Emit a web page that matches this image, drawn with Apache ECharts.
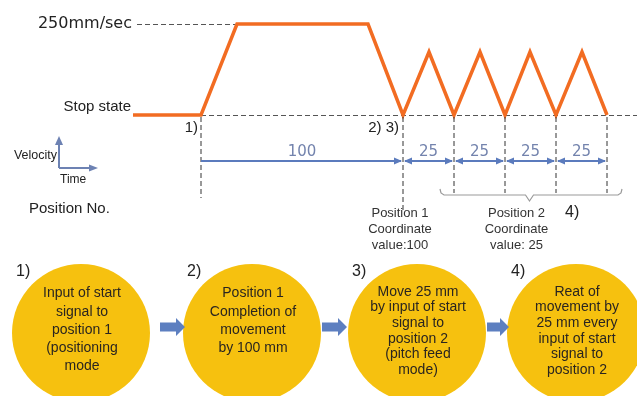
<!DOCTYPE html>
<html>
<head>
<meta charset="utf-8">
<script src="https://cdn.jsdelivr.net/npm/echarts@6/dist/echarts.min.js"></script>
<style>html,body{margin:0;padding:0;background:#fff}#c{width:637px;height:396px}</style>
</head>
<body>
<div id="c"></div>
<script>
// ---- data ----
const timeS    = [0, 0.68, 1.04, 2.35, 2.70, 2.96, 3.21, 3.47, 3.72, 3.97, 4.23, 4.49, 4.74];
const velocity = [0, 0,    250,  250,  0,    173,  0,    173,  0,    173,  0,    173,  0];
const positionTimes = [0.68, 2.70, 3.21, 3.72, 4.23, 4.74];
const distances = ['100', '25', '25', '25', '25'];
const speedLabels = ['Stop state', '250mm/sec'];
const speedValues = [0, 250];
const eventLabels = ['1)', '2) 3)'];
const positionNotes = ['Position 1\nCoordinate\nvalue:100', 'Position 2\nCoordinate\nvalue: 25'];
const stepLabels = ['1)', '2)', '3)', '4)'];
const stepTexts = [
  'Input of start\nsignal to\nposition 1\n(positioning\nmode',
  'Position 1\nCompletion of\nmovement\nby 100 mm',
  'Move 25 mm\nby input of start\nsignal to\nposition 2\n(pitch feed\nmode)',
  'Reat of\nmovement by\n25 mm every\ninput of start\nsignal to\nposition 2'
];

const FONT = '"Liberation Sans", Arial, sans-serif';
const chart = echarts.init(document.getElementById('c'), null, {renderer: 'canvas'});
chart.setOption({
  animation: false,
  grid: {left: 133, right: 0, top: 24, bottom: 281},
  xAxis: {type: 'value', min: 0, max: 5.04, show: false},
  yAxis: {type: 'value', min: 0, max: 250, show: false},
  series: [{
    type: 'line',
    data: timeS.map((t, i) => [t, velocity[i]]),
    symbol: 'none',
    clip: false,
    z: 5,
    lineStyle: {color: '#f26c22', width: 3.5, join: 'miter'},
    markLine: {
      silent: true, symbol: 'none', label: {show: false},
      lineStyle: {color: '#555', type: [5, 3], width: 1},
      data: [
        [{coord: [positionTimes[0], 0]}, {coord: [5.04, 0]}],
        [{coord: [0.04, 250]}, {coord: [timeS[2], 250]}]
      ]
    }
  }]
});

const toPx = (t, v) => chart.convertToPixel({gridIndex: 0}, [t, v]);
const els = [];
const txt = (text, x, y, size, opts = {}) => els.push({
  type: 'text', z: opts.z || 20,
  style: Object.assign({text, x, y, fill: opts.fill || '#222', fontSize: size,
    fontFamily: opts.family || FONT, textAlign: opts.align || 'left',
    textVerticalAlign: 'middle', lineHeight: opts.lh || size * 1.2}, {})
});

// speed labels
speedValues.forEach((v, i) => {
  const p = toPx(0, v);
  if (v === 0) txt(speedLabels[i], p[0] - 2, p[1] - 8, 15, {align: 'right'});
  else txt(speedLabels[i], p[0] - 1, p[1], 16, {align: 'right', family: '"DejaVu Sans", sans-serif'});
});

// vertical dashed position lines
const xs = positionTimes.map(t => toPx(t, 0)[0]);
const y0 = toPx(0, 0)[1];
xs.forEach((x, i) => {
  const yb = i === 0 ? 198 : (i === 1 ? 210 : 193);
  els.push({type: 'line', z: 10, shape: {x1: x, y1: y0 + 2, x2: x, y2: yb},
    style: {stroke: '#333', lineWidth: 1, lineDash: [5, 3]}});
});

// event labels
txt(eventLabels[0], xs[0] - 3, 128, 15, {align: 'right'});
txt(eventLabels[1], xs[1] - 4, 128, 15, {align: 'right'});

// dimension arrows
const AC = '#5b7bbd';
const ay = 161;
const head = (x, dir) => els.push({type: 'polygon', z: 12,
  shape: {points: [[x, ay], [x - dir * 8, ay - 3.5], [x - dir * 8, ay + 3.5]]}, style: {fill: AC}});
for (let i = 0; i < distances.length; i++) {
  const a = xs[i], b = xs[i + 1];
  els.push({type: 'line', z: 11, shape: {x1: a + (i ? 2 : 0), y1: ay, x2: b - 2, y2: ay}, style: {stroke: AC, lineWidth: 2}});
  head(b - 1, 1);
  if (i) head(a + 1, -1);
  txt(distances[i], (a + b) / 2 + (i ? 0 : 0), 152, i ? 15 : 15,
    {align: 'center', fill: '#7383ad', family: '"DejaVu Sans", sans-serif'});
}

// brace
const bl = xs[1] + 37, br = xs[5] + 15, bm = (xs[3] + xs[4]) / 2 - 1, by = 195;
els.push({type: 'polyline', z: 10, shape: {points: [[bl, by - 6], [bl + 1, by - 2], [bl + 4, by], [bm - 4, by], [bm, by + 6], [bm + 4, by], [br - 4, by], [br - 1, by - 2], [br, by - 6]]},
  style: {stroke: '#9a9a9a', lineWidth: 1.2, fill: null}});

// position notes
txt(positionNotes[0], xs[1] - 3, 229, 13, {align: 'center', lh: 16, fill: '#333'});
txt(positionNotes[1], bm - 13, 229, 13, {align: 'center', lh: 16, fill: '#333'});
txt('4)', 565, 213, 16, {align: 'left'});

// velocity / time legend
const LC = '#6d82b3';
els.push({type: 'line', z: 10, shape: {x1: 59, y1: 168, x2: 59, y2: 142}, style: {stroke: LC, lineWidth: 2}});
els.push({type: 'polygon', z: 10, shape: {points: [[59, 136], [55, 145], [63, 145]]}, style: {fill: LC}});
els.push({type: 'line', z: 10, shape: {x1: 59, y1: 168, x2: 91, y2: 168}, style: {stroke: LC, lineWidth: 2}});
els.push({type: 'polygon', z: 10, shape: {points: [[98, 168], [89, 164.5], [89, 171.5]]}, style: {fill: LC}});
txt('Velocity', 57, 156, 12.5, {align: 'right'});
txt('Time', 60, 180, 12);
txt('Position No.', 29, 209, 15);

// step circles
const cxs = [81, 252, 417, 576];
const cy = 333, r = 69;
const CF = '#f6c10f';
cxs.forEach((cx, i) => {
  els.push({type: 'circle', z: 1, shape: {cx, cy, r}, style: {fill: CF}});
  const n = stepTexts[i].split('\n').length;
  const lh = n > 5 ? 15.7 : 18.3;
  const cyT = n > 5 ? 331 : (n === 5 ? 330 : 321);
  txt(stepTexts[i], cx + 1, cyT, 14, {align: 'center', lh, fill: '#2a2520', z: 5});
  const lx = cx - 64 + (i === 0 ? 0 : 0);
  els.push({type: 'rect', z: 3, shape: {x: lx - 3, y: 262, width: 20, height: 20}, style: {fill: '#fff'}});
  txt(stepLabels[i], lx - 1, 272, 16, {z: 6});
});
// block arrows between circles
const gaps = [[160, 185], [322, 347], [487, 509]];
gaps.forEach(([a, b]) => {
  const m = 327, hw = 4.5, hh = 9, hx = b - 9;
  els.push({type: 'polygon', z: 4, shape: {points: [[a, m - hw], [hx, m - hw], [hx, m - hh], [b, m], [hx, m + hh], [hx, m + hw], [a, m + hw]]},
    style: {fill: '#5d7fc0'}});
});

chart.setOption({graphic: els});
</script>
</body>
</html>
